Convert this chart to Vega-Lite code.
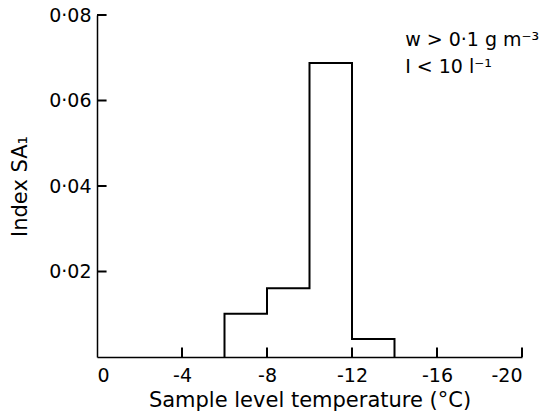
{
  "$schema": "https://vega.github.io/schema/vega-lite/v6.json",
  "width": 425,
  "height": 342,
  "autosize": "none",
  "padding": {"left": 97, "top": 15, "right": 21, "bottom": 60},
  "background": "white",
  "config": {
    "view": {"stroke": null},
    "font": "DejaVu Sans",
    "axis": {
      "grid": false,
      "ticks": false,
      "tickSize": 0,
      "domainColor": "black",
      "domainWidth": 1.5,
      "labelColor": "black",
      "titleColor": "black",
      "labelFont": "DejaVu Sans",
      "titleFont": "DejaVu Sans",
      "labelFontSize": 19,
      "titleFontSize": 21,
      "titleFontWeight": "normal"
    }
  },
  "layer": [
    {
      "data": {
        "values": [
          {"i": 0, "t": -6, "v": 0},
          {"i": 1, "t": -6, "v": 0.0101},
          {"i": 2, "t": -8, "v": 0.0161},
          {"i": 3, "t": -10, "v": 0.0688},
          {"i": 4, "t": -12, "v": 0.0042},
          {"i": 5, "t": -14, "v": 0}
        ]
      },
      "mark": {"type": "line", "interpolate": "step-after", "color": "black", "strokeWidth": 2},
      "encoding": {
        "x": {
          "field": "t",
          "type": "quantitative",
          "scale": {"domain": [0, -20], "nice": false, "zero": false},
          "axis": {
            "values": [0, -4, -8, -12, -16, -20],
            "labelExpr": "'' + datum.value",
            "labelPadding": 9,
            "title": "Sample level temperature (°C)",
            "titlePadding": 4
          }
        },
        "y": {
          "field": "v",
          "type": "quantitative",
          "scale": {"domain": [0, 0.08], "nice": false},
          "axis": {
            "values": [0.02, 0.04, 0.06, 0.08],
            "labelExpr": "replace(format(datum.value, '.2f'), '.', '·')",
            "labelPadding": 6,
            "title": "Index SA₁",
            "titlePadding": 18
          }
        },
        "order": {"field": "i"}
      }
    },
    {
      "data": {"values": [{"xt": -4}, {"xt": -8}, {"xt": -12}, {"xt": -16}, {"xt": -20}]},
      "mark": {"type": "rule", "color": "black", "strokeWidth": 2},
      "encoding": {
        "x": {"field": "xt", "type": "quantitative"},
        "y": {"datum": 0, "type": "quantitative"},
        "y2": {"datum": 0.0022}
      }
    },
    {
      "data": {"values": [{"yt": 0.02}, {"yt": 0.04}, {"yt": 0.06}, {"yt": 0.08}]},
      "mark": {"type": "rule", "color": "black", "strokeWidth": 2},
      "encoding": {
        "y": {"field": "yt", "type": "quantitative"},
        "x": {"datum": 0, "type": "quantitative"},
        "x2": {"datum": -0.45}
      }
    },
    {
      "data": {
        "values": [
          {"t": -14.5, "v": 0.0728, "label": "w > 0·1 g m⁻³"},
          {"t": -14.5, "v": 0.0664, "label": "I < 10 l⁻¹"}
        ]
      },
      "mark": {"type": "text", "align": "left", "baseline": "alphabetic", "fontSize": 19, "color": "black", "font": "DejaVu Sans"},
      "encoding": {
        "x": {"field": "t", "type": "quantitative"},
        "y": {"field": "v", "type": "quantitative"},
        "text": {"field": "label"}
      }
    }
  ]
}
